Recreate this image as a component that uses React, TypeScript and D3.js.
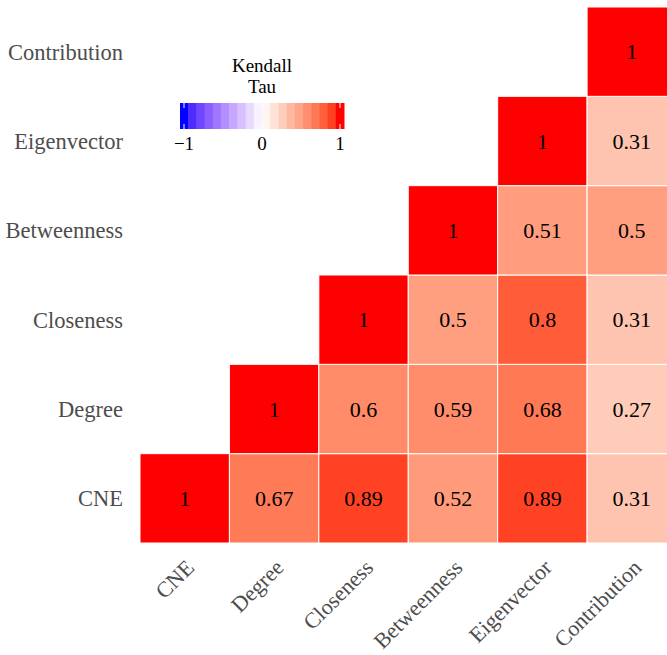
import React, {useEffect, useRef} from "react";
import * as d3 from "d3";

const labels = ["CNE", "Degree", "Closeness", "Betweenness", "Eigenvector", "Contribution"];

// upper triangle, row by row (row variable = y, starting at diagonal)
const rowCNE = [1, 0.67, 0.89, 0.52, 0.89, 0.31];
const rowDegree = [1, 0.6, 0.59, 0.68, 0.27];
const rowCloseness = [1, 0.5, 0.8, 0.31];
const rowBetweenness = [1, 0.51, 0.5];
const rowEigenvector = [1, 0.31];
const rowContribution = [1];

const rows = [rowCNE, rowDegree, rowCloseness, rowBetweenness, rowEigenvector, rowContribution];
const legendTicks = [-1, 0, 1];

const W = 667;
const H = 655;

const App: React.FC = () => {
	const svgRef = useRef<SVGSVGElement>(null);

	useEffect(() => {
		const svg = d3.select(svgRef.current);
		svg.selectAll("*").remove();

		const font = "'Liberation Serif', 'Times New Roman', serif";

		const x = d3.scaleBand().domain(labels).range([140, 676.5]);
		const y = d3.scaleBand().domain(labels.slice().reverse()).range([7, 543]);

		const pos = d3.scaleLinear<string>().domain([0, 1]).range(["#ffffff", "#ff0000"]).interpolate(d3.interpolateLab);
		const neg = d3.scaleLinear<string>().domain([-1, 0]).range(["#0000ff", "#ffffff"]).interpolate(d3.interpolateLab);
		const color = (v: number) => (v >= 0 ? pos(v) : neg(v));

		const cells: {xv: string; yv: string; v: number}[] = [];
		rows.forEach((r, i) => {
			r.forEach((v, j) => {
				cells.push({yv: labels[i], xv: labels[i + j], v});
			});
		});

		const g = svg.append("g");

		g.selectAll("rect.cell")
			.data(cells)
			.enter()
			.append("rect")
			.attr("class", "cell")
			.attr("x", (d) => x(d.xv)!)
			.attr("y", (d) => y(d.yv)!)
			.attr("width", x.bandwidth())
			.attr("height", y.bandwidth())
			.attr("fill", (d) => color(d.v))
			.attr("stroke", "#ffffff")
			.attr("stroke-width", 1);

		g.selectAll("text.val")
			.data(cells)
			.enter()
			.append("text")
			.attr("x", (d) => x(d.xv)! + x.bandwidth() / 2)
			.attr("y", (d) => y(d.yv)! + y.bandwidth() / 2)
			.attr("dy", "0.35em")
			.attr("text-anchor", "middle")
			.style("font-family", font)
			.style("font-size", "22px")
			.style("fill", "#000000")
			.text((d) => String(d.v));

		// Y labels
		svg.append("g")
			.selectAll("text")
			.data(labels)
			.enter()
			.append("text")
			.attr("x", 123)
			.attr("y", (d) => y(d)! + y.bandwidth() / 2)
			.attr("dy", "0.35em")
			.attr("text-anchor", "end")
			.style("font-family", font)
			.style("font-size", "22.5px")
			.style("fill", "#4d4d4d")
			.text((d) => d);

		// X labels
		svg.append("g")
			.selectAll("text")
			.data(labels)
			.enter()
			.append("text")
			.attr("transform", (d) => `translate(${x(d)! + x.bandwidth() / 2}, 558) rotate(-45)`)
			.attr("dy", "0.7em")
			.attr("text-anchor", "end")
			.style("font-family", font)
			.style("font-size", "22px")
			.style("fill", "#4d4d4d")
			.text((d) => d);

		// Legend
		const leg = svg.append("g");
		const lx = d3.scaleLinear().domain([-1, 1]).range([184, 340]);
		const nbin = 20;
		const binW = (344 - 180) / nbin;
		const bins = d3.range(nbin);
		leg.selectAll("rect")
			.data(bins)
			.enter()
			.append("rect")
			.attr("x", (i) => 180 + i * binW)
			.attr("y", 103)
			.attr("width", binW + 0.5)
			.attr("height", 26)
			.attr("fill", (i) => color(lx.invert(180 + (i + 0.5) * binW)));

		legendTicks.forEach((t) => {
			const tx = lx(t);
			leg.append("line").attr("x1", tx).attr("x2", tx).attr("y1", 103).attr("y2", 108).attr("stroke", "#ffffff").attr("stroke-width", 1);
			leg.append("line").attr("x1", tx).attr("x2", tx).attr("y1", 124).attr("y2", 129).attr("stroke", "#ffffff").attr("stroke-width", 1);
		});

		leg.selectAll("text.tick")
			.data(legendTicks)
			.enter()
			.append("text")
			.attr("x", (d) => lx(d))
			.attr("y", 150)
			.attr("text-anchor", "middle")
			.style("font-family", font)
			.style("font-size", "19px")
			.style("fill", "#000000")
			.text((d) => (d < 0 ? "\u2212" + Math.abs(d) : String(d)));

		leg.append("text")
			.attr("x", 262)
			.attr("y", 72)
			.attr("text-anchor", "middle")
			.style("font-family", font)
			.style("font-size", "19px")
			.text("Kendall");
		leg.append("text")
			.attr("x", 262)
			.attr("y", 93)
			.attr("text-anchor", "middle")
			.style("font-family", font)
			.style("font-size", "19px")
			.text("Tau");
	}, []);

	return (
		<svg
			ref={svgRef}
			width={W}
			height={H}
			style={{position: "absolute", left: 0, top: 0, background: "#ffffff"}}
		/>
	);
};

export default App;
